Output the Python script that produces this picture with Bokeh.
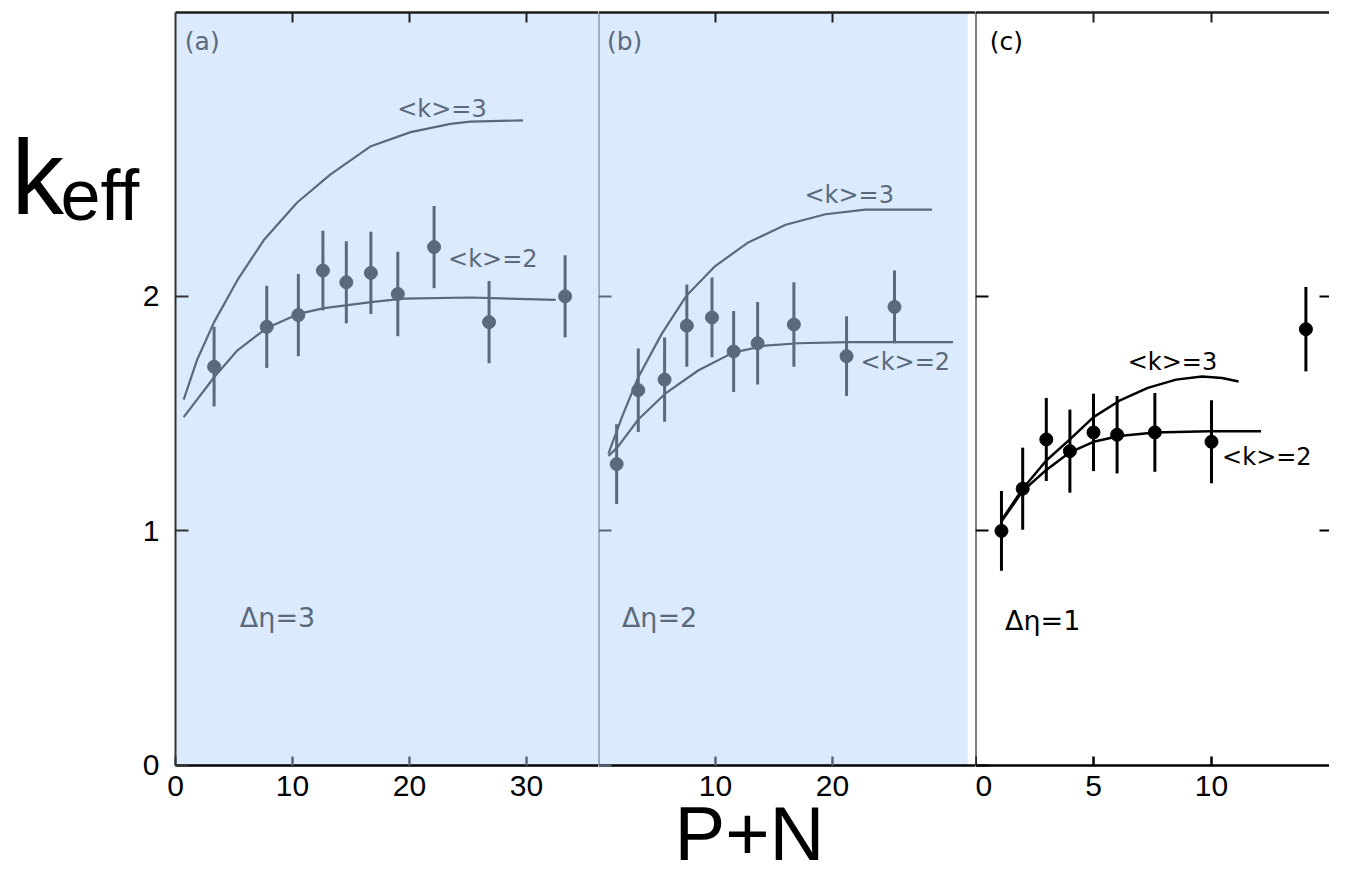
from bokeh.plotting import figure
from bokeh.layouts import row
from bokeh.models import (ColumnDataSource, FixedTicker, Label, LinearAxis,
                          CustomJSTickFormatter, Range1d, BoxAnnotation)
from bokeh.embed import file_html
from bokeh.resources import INLINE

# ---------------- data ----------------
# panel (a)  Delta eta = 3
a_x = [3.3, 7.8, 10.5, 12.6, 14.6, 16.7, 19.0, 22.1, 26.8, 33.3]
a_y = [1.70, 1.87, 1.92, 2.11, 2.06, 2.10, 2.01, 2.21, 1.89, 2.00]
a_err = [0.17, 0.175, 0.175, 0.17, 0.175, 0.175, 0.18, 0.175, 0.175, 0.175]
a_k3_x = [0.7, 1.85, 3.3, 5.3, 7.55, 10.4, 13.25, 16.7, 20.1, 23.5, 25.2, 29.7]
a_k3_y = [1.56, 1.73, 1.89, 2.07, 2.24, 2.40, 2.52, 2.64, 2.70, 2.735, 2.745, 2.75]
a_k2_x = [0.7, 3.3, 5.3, 7.8, 10.5, 12.7, 16.7, 19.5, 25.2, 32.5]
a_k2_y = [1.485, 1.655, 1.77, 1.865, 1.925, 1.95, 1.975, 1.99, 1.995, 1.985]

# panel (b)  Delta eta = 2
b_x = [1.55, 3.4, 5.65, 7.55, 9.7, 11.55, 13.6, 16.7, 21.2, 25.3]
b_y = [1.285, 1.60, 1.645, 1.875, 1.91, 1.765, 1.80, 1.88, 1.745, 1.955]
b_err = [0.17, 0.178, 0.18, 0.175, 0.17, 0.173, 0.176, 0.18, 0.17, 0.155]
b_k3_x = [0.85, 2.0, 3.4, 5.4, 7.55, 10.0, 12.8, 16.0, 19.4, 22.8, 28.5]
b_k3_y = [1.33, 1.485, 1.655, 1.84, 2.005, 2.13, 2.23, 2.305, 2.35, 2.37, 2.37]
b_k2_x = [0.85, 1.6, 3.4, 5.7, 8.55, 11.5, 14.25, 17.1, 21.4, 30.3]
b_k2_y = [1.32, 1.355, 1.475, 1.585, 1.685, 1.76, 1.79, 1.80, 1.805, 1.805]

# panel (c)  Delta eta = 1
c_x = [1.1, 2.0, 3.0, 4.0, 5.0, 6.0, 7.6, 10.0, 14.0]
c_y = [1.00, 1.18, 1.39, 1.34, 1.42, 1.41, 1.42, 1.38, 1.86]
c_err = [0.17, 0.175, 0.177, 0.177, 0.165, 0.165, 0.168, 0.177, 0.18]
c_k3_x = [1.1, 2.0, 3.0, 4.0, 5.0, 6.1, 7.3, 8.5, 9.6, 10.45, 11.15]
c_k3_y = [1.045, 1.18, 1.30, 1.39, 1.485, 1.555, 1.61, 1.645, 1.658, 1.652, 1.637]
c_k2_x = [1.1, 2.0, 3.0, 4.0, 5.0, 6.1, 7.6, 9.9, 12.1]
c_k2_y = [1.04, 1.17, 1.26, 1.335, 1.38, 1.405, 1.42, 1.425, 1.425]

# tick labels
y_ticks = [0, 1, 2]
a_xticks = [0, 10, 20, 30]
b_xticks = [10, 20]
c_xticks = [0, 5, 10]

SLATE = "#5a6a7c"
BLUE = "#dbeafc"
TICK_FONT = "Liberation Sans"
ANN_FONT = "DejaVu Sans"

H = 877
Y_TOP = 3.21                 # top edge of the plotting box
Y_RANGE = (-0.4775, 3.2612)  # whole canvas, box spans 0 .. Y_TOP


def make_panel(width, xr, box_right, bg, color, axis_color, xticks,
               show_ylabels, right_edge=None):
    p = figure(width=width, height=H, x_range=Range1d(*xr),
               y_range=Range1d(*Y_RANGE),
               output_backend="svg", toolbar_location=None,
               min_border=0, min_border_left=0, min_border_right=0,
               min_border_top=0, min_border_bottom=0,
               background_fill_color="white", border_fill_color="white",
               outline_line_color=None)
    p.grid.visible = False
    hide = CustomJSTickFormatter(code="return ''")
    xmax = right_edge if right_edge is not None else xr[1]

    if bg is not None:
        p.add_layout(BoxAnnotation(left=0, right=box_right, bottom=0,
                                   top=Y_TOP, fill_color=bg, fill_alpha=1,
                                   line_color=None, level="underlay"))

    # bottom axis (inside the canvas, at y = 0)
    xa = p.xaxis[0]
    xa.fixed_location = 0
    xa.bounds = (0, xmax)
    xa.ticker = FixedTicker(ticks=xticks)
    xa.major_tick_in = 9
    xa.major_tick_out = 0
    xa.minor_tick_line_color = None
    xa.axis_line_color = "black"
    xa.axis_line_width = 2.5
    xa.major_tick_line_color = color
    xa.major_tick_line_width = 2.5
    xa.major_label_text_font = TICK_FONT
    xa.major_label_text_font_size = "30px"
    xa.major_label_text_color = "black"
    xa.major_label_standoff = 11

    # left axis (at x = 0)
    ya = p.yaxis[0]
    ya.fixed_location = 0
    ya.bounds = (0, Y_TOP)
    ya.ticker = FixedTicker(ticks=y_ticks)
    ya.major_tick_in = 13
    ya.major_tick_out = 0
    ya.minor_tick_line_color = None
    ya.axis_line_color = axis_color
    ya.axis_line_width = 2
    ya.major_tick_line_color = axis_color
    ya.major_tick_line_width = 2
    if show_ylabels:
        ya.major_label_text_font = TICK_FONT
        ya.major_label_text_font_size = "30px"
        ya.major_label_text_color = "black"
        ya.major_label_standoff = 16
    else:
        ya.formatter = hide
        ya.major_label_text_font_size = "0px"
        ya.major_label_standoff = 0

    # top edge with inward ticks
    ta = LinearAxis(fixed_location=Y_TOP, bounds=(0, xmax),
                    ticker=FixedTicker(ticks=[t for t in xticks if t > 0]),
                    formatter=hide, major_label_text_font_size="0px",
                    major_label_standoff=0, major_tick_in=10,
                    major_tick_out=0, minor_tick_line_color=None,
                    axis_line_color="#1e1e1e", axis_line_width=2.5,
                    major_tick_line_color="#1e1e1e", major_tick_line_width=2)
    p.add_layout(ta, "above")

    if right_edge is not None:
        ra = LinearAxis(fixed_location=right_edge, bounds=(0, Y_TOP),
                        ticker=FixedTicker(ticks=[1, 2]), formatter=hide,
                        major_label_text_font_size="0px",
                        major_label_standoff=0, major_tick_in=10,
                        major_tick_out=0, minor_tick_line_color=None,
                        axis_line_color=None, major_tick_line_color="black",
                        major_tick_line_width=2)
        p.add_layout(ra, "right")
    return p


def draw_data(p, xs, ys, errs, k3x, k3y, k2x, k2y, color, lw):
    p.line(k3x, k3y, line_color=color, line_width=lw, line_join="round")
    p.line(k2x, k2y, line_color=color, line_width=lw, line_join="round")
    src = ColumnDataSource(dict(
        x=xs, y=ys,
        lo=[v - e for v, e in zip(ys, errs)],
        hi=[v + e for v, e in zip(ys, errs)]))
    p.segment(x0="x", y0="lo", x1="x", y1="hi", source=src,
              line_color=color, line_width=3)
    p.scatter(x="x", y="y", source=src, size=13, marker="circle",
              fill_color=color, line_color=color)


def ann(p, x, y, text, color, size="24px", font=ANN_FONT, align="left",
        baseline="middle"):
    p.add_layout(Label(x=x, y=y, text=text, text_color=color,
                       text_font=font, text_font_size=size,
                       text_align=align, text_baseline=baseline))


# ---------------- panel (a) ----------------
pa = make_panel(598, (-14.957, 36.154), 36.154, BLUE, SLATE, "#333333",
                a_xticks, True)
draw_data(pa, a_x, a_y, a_err, a_k3_x, a_k3_y, a_k2_x, a_k2_y, SLATE, 2.2)
ann(pa, 0.8, 3.085, "(a)", SLATE, "25px")
ann(pa, 18.95, 2.80, "<k>=3", SLATE)
ann(pa, 23.3, 2.16, "<k>=2", SLATE)
ann(pa, 5.5, 0.63, "Δη=3", SLATE, "27px")
# big axis title k_eff
ann(pa, -14.02, 2.508, "k", "black", "105px", "Liberation Sans", "left",
    "alphabetic")
ann(pa, -9.83, 2.43, "eff", "black", "72px", "Liberation Sans", "left",
    "alphabetic")

# ---------------- panel (b) ----------------
pb = make_panel(377, (0, 32.222), 31.55, BLUE, SLATE, SLATE, b_xticks, False)
draw_data(pb, b_x, b_y, b_err, b_k3_x, b_k3_y, b_k2_x, b_k2_y, SLATE, 2.2)
ann(pb, 0.72, 3.085, "(b)", SLATE, "25px")
ann(pb, 17.6, 2.43, "<k>=3", SLATE)
ann(pb, 22.4, 1.72, "<k>=2", SLATE)
ann(pb, 2.0, 0.63, "Δη=2", SLATE, "27px")
# big axis title P+N
ann(pb, 12.906, -0.472, "P+N", "black", "76px", "Liberation Sans", "center",
    "bottom")

# ---------------- panel (c) ----------------
pc = make_panel(354, (0, 15.0), 15.0, None, "black", "black", c_xticks,
                False, right_edge=15.0)
draw_data(pc, c_x, c_y, c_err, c_k3_x, c_k3_y, c_k2_x, c_k2_y, "black", 2.5)
ann(pc, 0.6, 3.085, "(c)", "black", "25px")
ann(pc, 6.45, 1.72, "<k>=3", "black")
ann(pc, 10.45, 1.315, "<k>=2", "black")
ann(pc, 1.25, 0.62, "Δη=1", "black", "27px")

layout = row(pa, pb, pc, spacing=0)

with open("out.html", "w") as f:
    f.write(file_html(layout, INLINE, title="k_eff vs P+N"))
